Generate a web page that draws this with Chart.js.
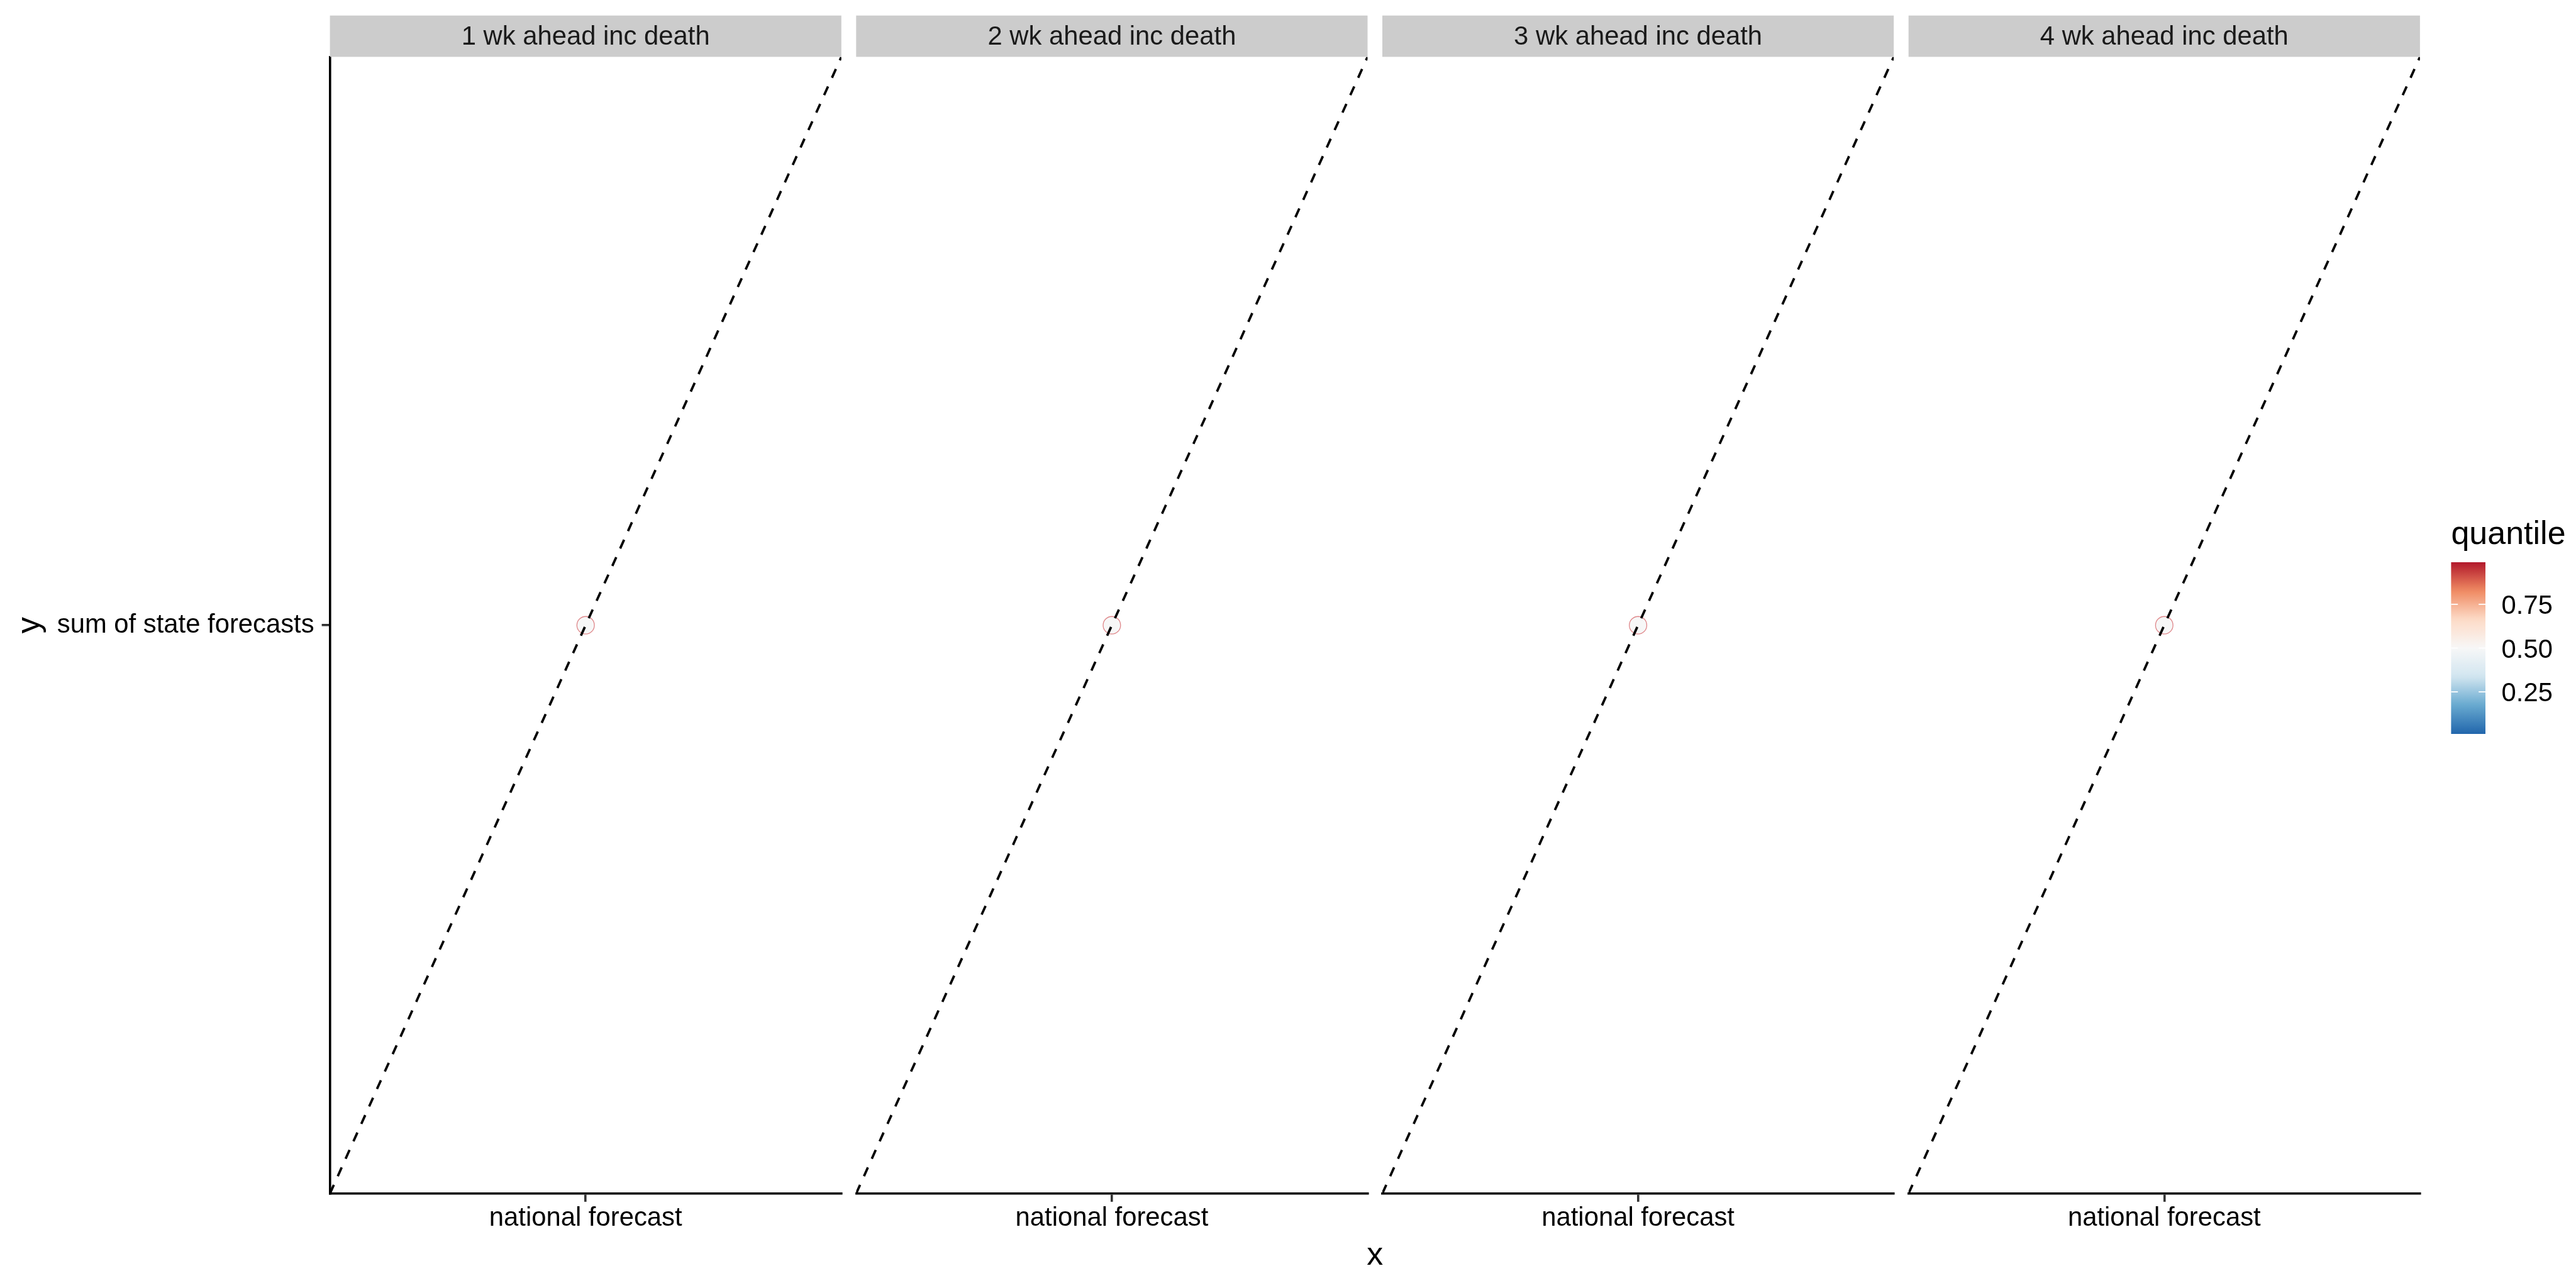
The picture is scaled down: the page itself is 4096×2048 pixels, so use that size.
<!DOCTYPE html>
<html>
<head>
<meta charset="utf-8">
<script src="https://cdn.jsdelivr.net/npm/chart.js@4.4.1/dist/chart.umd.min.js"></script>
<style>
  html, body { margin: 0; padding: 0; background: #ffffff; width: 4096px; height: 2048px; overflow: hidden; }
  #wrap { position: relative; width: 4096px; height: 2048px; }
  canvas { position: absolute; left: 0; top: 0; }
</style>
</head>
<body>
<div id="wrap"></div>
<script>
// ---------------- data ----------------
const facetLabels = ['1 wk ahead inc death', '2 wk ahead inc death', '3 wk ahead inc death', '4 wk ahead inc death'];
const xCategories = ['national forecast'];
const yCategories = ['sum of state forecasts'];
const pointX = ['national forecast', 'national forecast', 'national forecast', 'national forecast'];
const pointY = ['sum of state forecasts', 'sum of state forecasts', 'sum of state forecasts', 'sum of state forecasts'];
const pointQuantile = [0.5, 0.5, 0.5, 0.5];
const ablineIntercept = 0;
const ablineSlope = 1;
const quantileLimits = [0.01, 0.99];
const legendBreaks = [0.25, 0.5, 0.75];
const legendBreakLabels = ['0.25', '0.50', '0.75'];
const paletteRdBu = ['#2166AC', '#67A9CF', '#D1E5F0', '#F7F7F7', '#FDDBC7', '#EF8A62', '#B2182B'];
const xTitle = 'x';
const yTitle = 'y';
const legendTitle = 'quantile';

// ---------------- layout (window pixels) ----------------
const W = 4096, H = 2048;
const FONT = '"Liberation Sans", Arial, Helvetica, sans-serif';
const panelLeft0 = 524.6, panelW = 813.2, panelGap = 23.5;
const panelTop = 90.4, panelBottom = 1897.9, stripTop = 24.7;
const yAxisW = 480, xAxisH = 90;
const lineW = 3.6;
const tickLen = 13;
const discreteExpand = 0.6;

function hex2rgb(h) {
  const v = parseInt(h.slice(1), 16);
  return [(v >> 16) & 255, (v >> 8) & 255, v & 255];
}
function quantileColour(q) {
  const t = Math.min(1, Math.max(0, (q - quantileLimits[0]) / (quantileLimits[1] - quantileLimits[0])));
  const n = paletteRdBu.length - 1;
  const p = t * n;
  const i = Math.min(n - 1, Math.floor(p));
  const f = p - i;
  const a = hex2rgb(paletteRdBu[i]), b = hex2rgb(paletteRdBu[i + 1]);
  const c = a.map((v, k) => Math.round(v + (b[k] - v) * f));
  return `rgb(${c[0]},${c[1]},${c[2]})`;
}

const xMin = 1 - discreteExpand, xMax = xCategories.length + discreteExpand;
const yMin = 1 - discreteExpand, yMax = yCategories.length + discreteExpand;

// strip plugin
const stripPlugin = {
  id: 'strip',
  afterDraw(chart, args, opts) {
    const ctx = chart.ctx, a = chart.chartArea;
    ctx.save();
    ctx.fillStyle = '#CCCCCC';
    ctx.fillRect(a.left, stripTop, a.right - a.left, a.top - stripTop);
    ctx.fillStyle = '#1A1A1A';
    ctx.font = `41.8px ${FONT}`;
    ctx.textAlign = 'center';
    ctx.textBaseline = 'middle';
    ctx.fillText(opts.label, (a.left + a.right) / 2, (stripTop + a.top) / 2 + 2);
    ctx.restore();
  }
};

// global titles + colourbar legend
const globalPlugin = {
  id: 'globalDecor',
  afterDraw(chart) {
    const ctx = chart.ctx;
    ctx.save();
    ctx.fillStyle = '#000';
    // x title
    ctx.font = `52px ${FONT}`;
    ctx.textAlign = 'center';
    ctx.textBaseline = 'alphabetic';
    const lastRight = panelLeft0 + (facetLabels.length - 1) * (panelW + panelGap) + panelW;
    ctx.fillText(xTitle, (panelLeft0 + lastRight) / 2, 2010.5);
    // y title
    ctx.save();
    ctx.translate(61.8, (panelTop + panelBottom) / 2);
    ctx.rotate(-Math.PI / 2);
    ctx.fillText(yTitle, 0, 0);
    ctx.restore();

    // legend title
    const barL = 3897.4, barT = 894, barW = 54.6, barH = 273;
    ctx.textAlign = 'left';
    ctx.font = `52px ${FONT}`;
    ctx.fillText(legendTitle, barL, 864.5);
    // colour bar
    const g = ctx.createLinearGradient(0, barT + barH, 0, barT);
    const steps = 40;
    for (let s = 0; s <= steps; s++) {
      const q = quantileLimits[0] + (quantileLimits[1] - quantileLimits[0]) * s / steps;
      g.addColorStop(s / steps, quantileColour(q));
    }
    ctx.fillStyle = g;
    ctx.fillRect(barL, barT, barW, barH);
    // ticks + labels
    ctx.font = `41.8px ${FONT}`;
    ctx.textBaseline = 'alphabetic';
    legendBreaks.forEach((v, i) => {
      const y = barT + (quantileLimits[1] - v) / (quantileLimits[1] - quantileLimits[0]) * barH;
      ctx.strokeStyle = '#FFFFFF';
      ctx.lineWidth = 1.6;
      ctx.beginPath();
      ctx.moveTo(barL, y); ctx.lineTo(barL + 10.8, y);
      ctx.moveTo(barL + barW - 10.8, y); ctx.lineTo(barL + barW, y);
      ctx.stroke();
      ctx.fillStyle = '#000';
      ctx.fillText(legendBreakLabels[i], 3977.6, y + 15);
    });
    ctx.restore();
  }
};

const wrap = document.getElementById('wrap');

facetLabels.forEach((label, i) => {
  const cv = document.createElement('canvas');
  cv.width = W; cv.height = H;
  cv.style.width = W + 'px'; cv.style.height = H + 'px';
  wrap.appendChild(cv);

  const left = panelLeft0 + i * (panelW + panelGap);
  const right = left + panelW;
  const showY = i === 0;

  const px = xCategories.indexOf(pointX[i]) + 1;
  const py = yCategories.indexOf(pointY[i]) + 1;

  const axisCommon = {
    type: 'linear',
    grid: { display: true, drawOnChartArea: false, drawTicks: true, tickLength: tickLen, tickWidth: lineW, tickColor: '#333333', lineWidth: lineW, color: '#333333' },
    border: { display: true, color: '#000000', width: lineW },
  };

  new Chart(cv, {
    type: 'line',
    data: {
      datasets: [
        {
          label: 'abline',
          data: [
            { x: xMin, y: ablineIntercept + ablineSlope * xMin },
            { x: xMax, y: ablineIntercept + ablineSlope * xMax }
          ],
          borderColor: '#000000',
          borderWidth: 3.8,
          borderDash: [15.2, 15.2],
          borderCapStyle: 'butt',
          pointRadius: 0,
          fill: false,
          tension: 0,
          order: 0
        },
        {
          label: 'quantile',
          data: [{ x: px, y: py }],
          showLine: false,
          pointRadius: 13.9,
          pointBackgroundColor: quantileColour(pointQuantile[i]),
          pointBorderColor: 'rgba(214,96,100,0.75)',
          pointBorderWidth: 1.3,
          order: 1
        }
      ]
    },
    options: {
      responsive: false,
      devicePixelRatio: 1,
      animation: false,
      events: [],
      layout: {
        autoPadding: false,
        padding: {
          left: left - (showY ? yAxisW : 0),
          right: W - right,
          top: panelTop,
          bottom: H - panelBottom - xAxisH
        }
      },
      plugins: {
        legend: { display: false },
        tooltip: { enabled: false },
        title: { display: false },
        strip: { label: label }
      },
      scales: {
        x: Object.assign({}, axisCommon, {
          position: 'bottom',
          min: xMin, max: xMax,
          afterBuildTicks: s => { s.ticks = xCategories.map((c, k) => ({ value: k + 1 })); },
          afterFit: s => { s.height = xAxisH; },
          ticks: {
            callback: v => xCategories[Math.round(v) - 1] || '',
            font: { family: FONT, size: 41.8, lineHeight: 1 },
            color: '#000000', padding: 6, maxRotation: 0, minRotation: 0, autoSkip: false
          }
        }),
        y: Object.assign({}, axisCommon, {
          position: 'left',
          display: showY,
          min: yMin, max: yMax,
          afterBuildTicks: s => { s.ticks = yCategories.map((c, k) => ({ value: k + 1 })); },
          afterFit: s => { s.width = showY ? yAxisW : 0; },
          ticks: {
            callback: v => yCategories[Math.round(v) - 1] || '',
            font: { family: FONT, size: 41.8, lineHeight: 1 },
            color: '#000000', padding: 12, autoSkip: false
          }
        })
      }
    },
    plugins: i === 0 ? [stripPlugin, globalPlugin] : [stripPlugin]
  });
});
</script>
</body>
</html>
